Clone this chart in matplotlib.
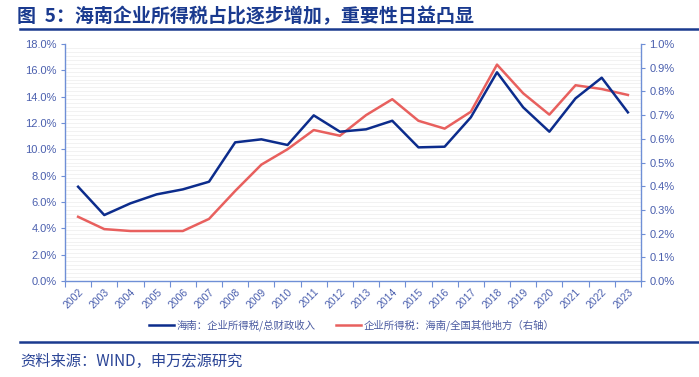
import matplotlib
matplotlib.use('Agg')
import matplotlib.pyplot as plt
from matplotlib.ticker import FuncFormatter, MultipleLocator
from matplotlib.lines import Line2D

plt.rcParams['font.family'] = ['Noto Sans CJK SC', 'DejaVu Sans']

years = [str(y) for y in range(2002, 2024)]
hainan_share = [7.16, 5.01, 5.90, 6.58, 6.96, 7.54, 10.53, 10.76, 10.33, 12.58, 11.34,
                11.52, 12.17, 10.15, 10.20, 12.43, 15.85, 13.19, 11.34, 13.87, 15.44, 12.81]
hainan_vs_other = [0.271, 0.219, 0.211, 0.211, 0.211, 0.262, 0.380, 0.491, 0.556, 0.637, 0.613,
                   0.700, 0.767, 0.676, 0.643, 0.714, 0.913, 0.792, 0.702, 0.826, 0.810, 0.785]

title = "图  5：海南企业所得税占比逐步增加，重要性日益凸显"
source = "资料来源：WIND，申万宏源研究"
label_blue = "海南：企业所得税/总财政收入"
label_red = "企业所得税：海南/全国其他地方（右轴）"

navy = "#0C2C8C"
red = "#E8605E"
tick_col = "#4A5FAE"
spine_col = "#6F8FD6"
num_font = ['Liberation Sans', 'DejaVu Sans']

fig = plt.figure(figsize=(6.99, 3.77), dpi=100)
ax = fig.add_axes([0.093, 0.2546, 0.824, 0.6287])
ax2 = ax.twinx()

x = list(range(len(years)))
ax.plot(x, hainan_share, color=navy, lw=1.8, zorder=3)
ax2.plot(x, hainan_vs_other, color=red, lw=1.8, zorder=2)
ax.set_zorder(ax2.get_zorder() + 1)
ax.patch.set_visible(False)

ax.set_xlim(-0.5, len(years) - 0.5)
ax.set_ylim(0, 18)
ax2.set_ylim(0, 1.0)

# faint striped background
for v in [i * 0.3 for i in range(1, 60)]:
    ax2.axhline(v / 18, color="#F0F0F0", lw=0.6, zorder=0)

ax.yaxis.set_major_locator(MultipleLocator(2))
ax.yaxis.set_major_formatter(FuncFormatter(lambda v, p: f"{v:.1f}%"))
ax2.yaxis.set_major_locator(MultipleLocator(0.1))
ax2.yaxis.set_major_formatter(FuncFormatter(lambda v, p: f"{v:.1f}%"))

ax.set_xticks([i - 0.5 for i in range(len(years) + 1)])
ax.set_xticklabels([])
ax.set_xticks(x, minor=True)
ax.set_xticklabels(years, minor=True, rotation=45, ha='right', rotation_mode='anchor',
                   fontsize=7.5, color=tick_col, family=num_font)
ax.tick_params(axis='x', which='minor', length=0, pad=4)
ax.tick_params(axis='x', which='major', length=4, color=spine_col, direction='out')
ax.tick_params(axis='y', length=3, color=spine_col, labelsize=8, labelcolor=tick_col, pad=3)
ax2.tick_params(axis='y', length=3, color=spine_col, labelsize=8, labelcolor=tick_col, pad=3)
for lab in ax.get_yticklabels() + ax2.get_yticklabels():
    lab.set_family(num_font)

for a in (ax, ax2):
    a.spines['top'].set_visible(False)
    for s in ('left', 'right', 'bottom'):
        a.spines[s].set_color(spine_col)
        a.spines[s].set_linewidth(1.0)
ax.spines['right'].set_visible(False)
ax2.spines['left'].set_visible(False)
ax2.spines['bottom'].set_visible(False)

handles = [Line2D([], [], color=navy, lw=1.8), Line2D([], [], color=red, lw=1.8)]
leg = fig.legend(handles, [label_blue, label_red], loc='center', bbox_to_anchor=(0.503, 0.138),
                 ncol=2, frameon=False, fontsize=7.5, handlelength=2.4, columnspacing=2.0,
                 handletextpad=0.2)
for t in leg.get_texts():
    t.set_color("#4A5AA0")

fig.text(0.024, 0.957, title, fontsize=13.7, fontweight='bold', color="#1A3A8F", va='center')
fig.add_artist(Line2D([0.028, 1.0], [0.923, 0.923], color="#1A3A8F", lw=1.8))
fig.add_artist(Line2D([0.028, 1.0], [0.093, 0.093], color="#1A3A8F", lw=1.8))
fig.text(0.029, 0.042, source, fontsize=11, color="#2A4496", va='center')

fig.savefig("out.png", dpi=100)
